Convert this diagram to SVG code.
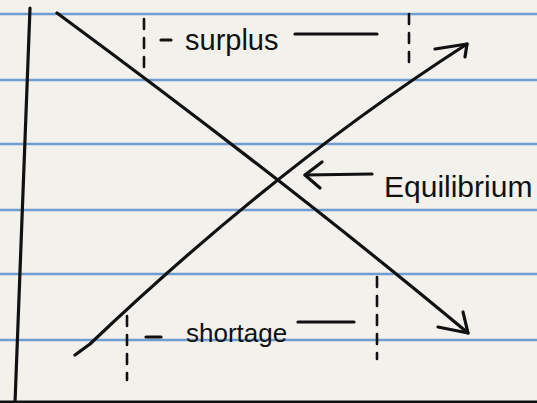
<svg xmlns="http://www.w3.org/2000/svg" width="537" height="403" viewBox="0 0 537 403">
  <defs>
    <style>
      .rule { stroke: #5a8fcc; stroke-width: 2.5; opacity: 0.85; }
      .ink { stroke: #111; stroke-width: 3.2; fill: none; stroke-linecap: round; stroke-linejoin: round; }
      .dash { stroke: #111; stroke-width: 2.6; fill: none; stroke-dasharray: 10 9; stroke-linecap: round; }
      .hand { font-family: "Liberation Sans", "DejaVu Sans", sans-serif; fill: #111; }
    </style>
  </defs>
  <rect x="0" y="0" width="537" height="403" fill="#f3f1ec"/>
  <g id="paper-rules">
    <line class="rule" x1="0" y1="14" x2="537" y2="14"/>
    <line class="rule" x1="0" y1="80" x2="537" y2="80"/>
    <line class="rule" x1="0" y1="144" x2="537" y2="144"/>
    <line class="rule" x1="0" y1="210" x2="537" y2="210"/>
    <line class="rule" x1="0" y1="274" x2="537" y2="274"/>
    <line class="rule" x1="0" y1="340" x2="537" y2="340"/>
  </g>
  <g id="axes">
    <line class="ink" x1="30" y1="8" x2="15" y2="403"/>
    <line class="ink" x1="0" y1="402" x2="537" y2="402" stroke-width="4"/>
  </g>
  <g id="connectors">
    <g id="demand">
      <path class="ink" d="M57,13 Q293,187 468,333"/>
      <polyline class="ink" points="438,327 468,333 463,312"/>
    </g>
    <g id="supply">
      <path class="ink" d="M75,355 L90,344 Q277,166 467,44"/>
      <polyline class="ink" points="435,49 467,44 465,57"/>
    </g>
    <g id="equilibrium-arrow">
      <line class="ink" x1="372" y1="174" x2="305" y2="175"/>
      <polyline class="ink" points="322,162 305,175 320,188"/>
    </g>
  </g>
  <g id="surplus">
    <line class="dash" x1="144" y1="19" x2="144" y2="68"/>
    <line class="dash" x1="409" y1="14" x2="409" y2="65"/>
    <line class="ink" x1="161" y1="40" x2="171" y2="40" stroke-width="2.6"/>
    <line class="ink" x1="295" y1="34" x2="377" y2="34" stroke-width="2.6"/>
    <text class="hand" x="185" y="50" font-size="29">surplus</text>
  </g>
  <g id="shortage">
    <line class="dash" x1="127" y1="316" x2="127" y2="380"/>
    <line class="dash" x1="377" y1="277" x2="377" y2="359"/>
    <line class="ink" x1="146" y1="337" x2="161" y2="337" stroke-width="2.6"/>
    <line class="ink" x1="298" y1="322" x2="354" y2="322" stroke-width="2.6"/>
    <text class="hand" x="186" y="342" font-size="26">shortage</text>
  </g>
  <g id="equilibrium">
    <text class="hand" x="384" y="197" font-size="30">Equilibrium</text>
  </g>
</svg>
